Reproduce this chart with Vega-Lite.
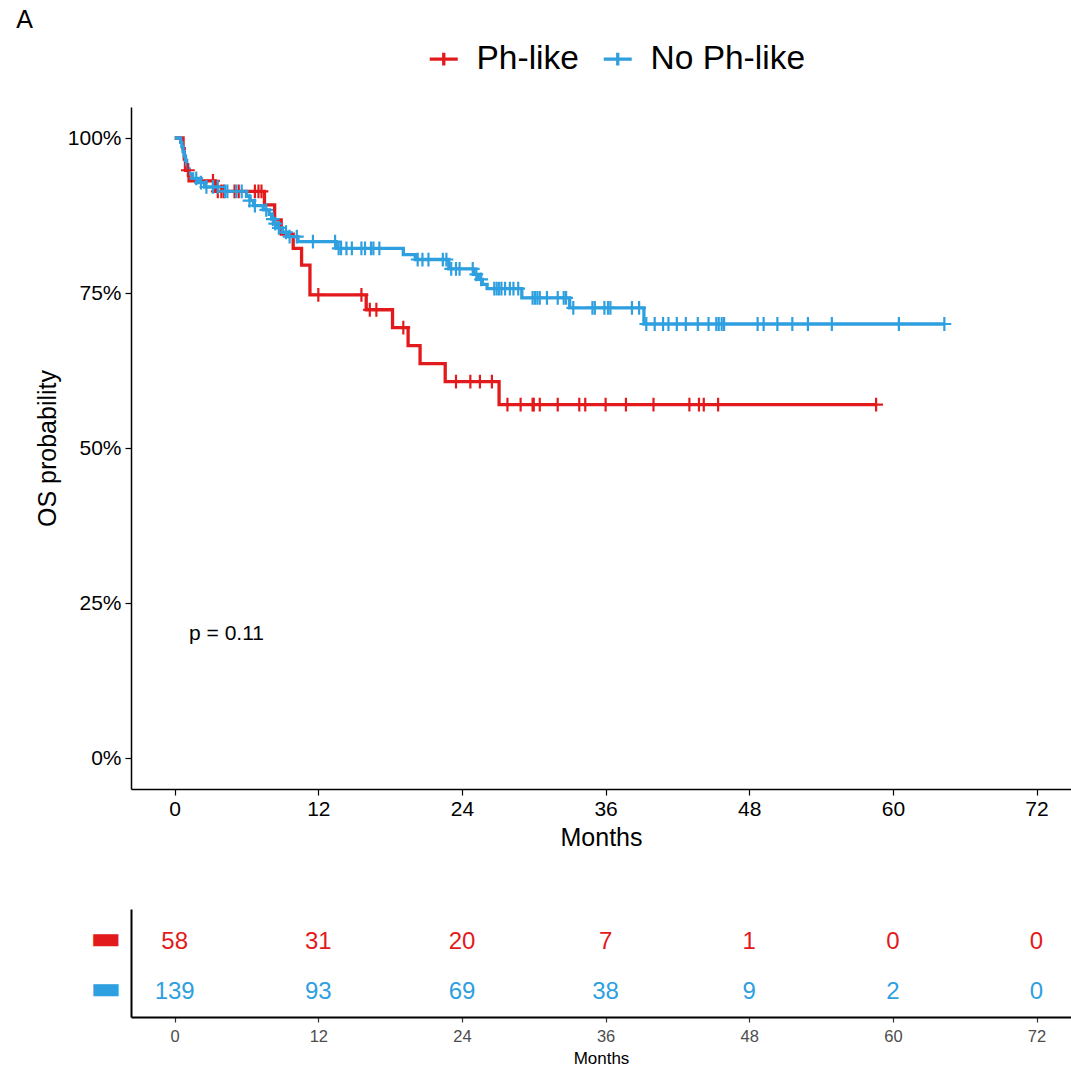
{
  "$schema": "https://vega.github.io/schema/vega-lite/v6.json",
  "background": "white",
  "padding": {"left": 16, "top": 8, "right": 0, "bottom": 0},
  "title": {"text": "A", "anchor": "start", "frame": "bounds", "fontSize": 25, "fontWeight": "normal", "font": "Liberation Sans", "dx": -19, "offset": 9},
  "spacing": 59,
  "datasets": {
    "km": [
      {"group": "Ph-like", "kind": "s", "time": 0, "surv": 1.0},
      {"group": "Ph-like", "kind": "s", "time": 0.7, "surv": 0.983},
      {"group": "Ph-like", "kind": "s", "time": 0.8, "surv": 0.966},
      {"group": "Ph-like", "kind": "s", "time": 0.9, "surv": 0.948},
      {"group": "Ph-like", "kind": "s", "time": 1.2, "surv": 0.931},
      {"group": "Ph-like", "kind": "s", "time": 3.4, "surv": 0.914},
      {"group": "Ph-like", "kind": "s", "time": 7.5, "surv": 0.892},
      {"group": "Ph-like", "kind": "s", "time": 8.35, "surv": 0.868},
      {"group": "Ph-like", "kind": "s", "time": 8.9, "surv": 0.845},
      {"group": "Ph-like", "kind": "s", "time": 9.9, "surv": 0.822},
      {"group": "Ph-like", "kind": "s", "time": 10.6, "surv": 0.795},
      {"group": "Ph-like", "kind": "s", "time": 11.3, "surv": 0.747},
      {"group": "Ph-like", "kind": "s", "time": 16.0, "surv": 0.723},
      {"group": "Ph-like", "kind": "s", "time": 18.2, "surv": 0.694},
      {"group": "Ph-like", "kind": "s", "time": 19.5, "surv": 0.665},
      {"group": "Ph-like", "kind": "s", "time": 20.5, "surv": 0.636},
      {"group": "Ph-like", "kind": "s", "time": 22.6, "surv": 0.607},
      {"group": "Ph-like", "kind": "s", "time": 27.1, "surv": 0.570},
      {"group": "Ph-like", "kind": "s", "time": 58.6, "surv": 0.570},
      {"group": "Ph-like", "kind": "c", "time": 1.1, "surv": 0.948},
      {"group": "Ph-like", "kind": "c", "time": 3.2, "surv": 0.931},
      {"group": "Ph-like", "kind": "c", "time": 3.6, "surv": 0.914},
      {"group": "Ph-like", "kind": "c", "time": 3.9, "surv": 0.914},
      {"group": "Ph-like", "kind": "c", "time": 4.1, "surv": 0.914},
      {"group": "Ph-like", "kind": "c", "time": 5.0, "surv": 0.914},
      {"group": "Ph-like", "kind": "c", "time": 5.35, "surv": 0.914},
      {"group": "Ph-like", "kind": "c", "time": 6.7, "surv": 0.914},
      {"group": "Ph-like", "kind": "c", "time": 7.0, "surv": 0.914},
      {"group": "Ph-like", "kind": "c", "time": 7.25, "surv": 0.914},
      {"group": "Ph-like", "kind": "c", "time": 12.0, "surv": 0.747},
      {"group": "Ph-like", "kind": "c", "time": 15.6, "surv": 0.747},
      {"group": "Ph-like", "kind": "c", "time": 16.3, "surv": 0.723},
      {"group": "Ph-like", "kind": "c", "time": 16.85, "surv": 0.723},
      {"group": "Ph-like", "kind": "c", "time": 19.1, "surv": 0.694},
      {"group": "Ph-like", "kind": "c", "time": 23.5, "surv": 0.607},
      {"group": "Ph-like", "kind": "c", "time": 24.7, "surv": 0.607},
      {"group": "Ph-like", "kind": "c", "time": 25.5, "surv": 0.607},
      {"group": "Ph-like", "kind": "c", "time": 26.5, "surv": 0.607},
      {"group": "Ph-like", "kind": "c", "time": 27.8, "surv": 0.570},
      {"group": "Ph-like", "kind": "c", "time": 28.9, "surv": 0.570},
      {"group": "Ph-like", "kind": "c", "time": 29.9, "surv": 0.570},
      {"group": "Ph-like", "kind": "c", "time": 30.0, "surv": 0.570},
      {"group": "Ph-like", "kind": "c", "time": 30.5, "surv": 0.570},
      {"group": "Ph-like", "kind": "c", "time": 32.0, "surv": 0.570},
      {"group": "Ph-like", "kind": "c", "time": 33.8, "surv": 0.570},
      {"group": "Ph-like", "kind": "c", "time": 34.3, "surv": 0.570},
      {"group": "Ph-like", "kind": "c", "time": 36.0, "surv": 0.570},
      {"group": "Ph-like", "kind": "c", "time": 37.7, "surv": 0.570},
      {"group": "Ph-like", "kind": "c", "time": 40.0, "surv": 0.570},
      {"group": "Ph-like", "kind": "c", "time": 43.0, "surv": 0.570},
      {"group": "Ph-like", "kind": "c", "time": 43.8, "surv": 0.570},
      {"group": "Ph-like", "kind": "c", "time": 44.2, "surv": 0.570},
      {"group": "Ph-like", "kind": "c", "time": 45.4, "surv": 0.570},
      {"group": "Ph-like", "kind": "c", "time": 58.6, "surv": 0.570},
      {"group": "No Ph-like", "kind": "s", "time": 0, "surv": 1.0},
      {"group": "No Ph-like", "kind": "s", "time": 0.5, "surv": 0.993},
      {"group": "No Ph-like", "kind": "s", "time": 0.6, "surv": 0.986},
      {"group": "No Ph-like", "kind": "s", "time": 0.7, "surv": 0.978},
      {"group": "No Ph-like", "kind": "s", "time": 0.8, "surv": 0.971},
      {"group": "No Ph-like", "kind": "s", "time": 0.9, "surv": 0.964},
      {"group": "No Ph-like", "kind": "s", "time": 1.0, "surv": 0.957},
      {"group": "No Ph-like", "kind": "s", "time": 1.1, "surv": 0.950},
      {"group": "No Ph-like", "kind": "s", "time": 1.2, "surv": 0.942},
      {"group": "No Ph-like", "kind": "s", "time": 1.5, "surv": 0.935},
      {"group": "No Ph-like", "kind": "s", "time": 2.0, "surv": 0.928},
      {"group": "No Ph-like", "kind": "s", "time": 2.5, "surv": 0.921},
      {"group": "No Ph-like", "kind": "s", "time": 4.0, "surv": 0.914},
      {"group": "No Ph-like", "kind": "s", "time": 6.0, "surv": 0.906},
      {"group": "No Ph-like", "kind": "s", "time": 6.3, "surv": 0.899},
      {"group": "No Ph-like", "kind": "s", "time": 6.6, "surv": 0.891},
      {"group": "No Ph-like", "kind": "s", "time": 7.4, "surv": 0.884},
      {"group": "No Ph-like", "kind": "s", "time": 7.9, "surv": 0.877},
      {"group": "No Ph-like", "kind": "s", "time": 8.1, "surv": 0.869},
      {"group": "No Ph-like", "kind": "s", "time": 8.3, "surv": 0.862},
      {"group": "No Ph-like", "kind": "s", "time": 8.6, "surv": 0.855},
      {"group": "No Ph-like", "kind": "s", "time": 9.0, "surv": 0.848},
      {"group": "No Ph-like", "kind": "s", "time": 9.5, "surv": 0.841},
      {"group": "No Ph-like", "kind": "s", "time": 10.3, "surv": 0.833},
      {"group": "No Ph-like", "kind": "s", "time": 13.5, "surv": 0.822},
      {"group": "No Ph-like", "kind": "s", "time": 19.1, "surv": 0.812},
      {"group": "No Ph-like", "kind": "s", "time": 20.1, "surv": 0.804},
      {"group": "No Ph-like", "kind": "s", "time": 22.9, "surv": 0.789},
      {"group": "No Ph-like", "kind": "s", "time": 25.0, "surv": 0.780},
      {"group": "No Ph-like", "kind": "s", "time": 25.4, "surv": 0.772},
      {"group": "No Ph-like", "kind": "s", "time": 25.7, "surv": 0.764},
      {"group": "No Ph-like", "kind": "s", "time": 26.1, "surv": 0.757},
      {"group": "No Ph-like", "kind": "s", "time": 29.0, "surv": 0.742},
      {"group": "No Ph-like", "kind": "s", "time": 33.0, "surv": 0.726},
      {"group": "No Ph-like", "kind": "s", "time": 39.2, "surv": 0.700},
      {"group": "No Ph-like", "kind": "s", "time": 64.3, "surv": 0.700},
      {"group": "No Ph-like", "kind": "c", "time": 1.8, "surv": 0.935},
      {"group": "No Ph-like", "kind": "c", "time": 2.2, "surv": 0.928},
      {"group": "No Ph-like", "kind": "c", "time": 2.65, "surv": 0.921},
      {"group": "No Ph-like", "kind": "c", "time": 3.2, "surv": 0.921},
      {"group": "No Ph-like", "kind": "c", "time": 3.6, "surv": 0.921},
      {"group": "No Ph-like", "kind": "c", "time": 4.2, "surv": 0.914},
      {"group": "No Ph-like", "kind": "c", "time": 4.4, "surv": 0.914},
      {"group": "No Ph-like", "kind": "c", "time": 5.15, "surv": 0.914},
      {"group": "No Ph-like", "kind": "c", "time": 5.6, "surv": 0.914},
      {"group": "No Ph-like", "kind": "c", "time": 6.25, "surv": 0.899},
      {"group": "No Ph-like", "kind": "c", "time": 6.7, "surv": 0.891},
      {"group": "No Ph-like", "kind": "c", "time": 7.65, "surv": 0.884},
      {"group": "No Ph-like", "kind": "c", "time": 8.2, "surv": 0.869},
      {"group": "No Ph-like", "kind": "c", "time": 8.4, "surv": 0.862},
      {"group": "No Ph-like", "kind": "c", "time": 8.7, "surv": 0.855},
      {"group": "No Ph-like", "kind": "c", "time": 9.3, "surv": 0.848},
      {"group": "No Ph-like", "kind": "c", "time": 9.6, "surv": 0.841},
      {"group": "No Ph-like", "kind": "c", "time": 10.2, "surv": 0.841},
      {"group": "No Ph-like", "kind": "c", "time": 11.55, "surv": 0.833},
      {"group": "No Ph-like", "kind": "c", "time": 13.4, "surv": 0.833},
      {"group": "No Ph-like", "kind": "c", "time": 13.7, "surv": 0.822},
      {"group": "No Ph-like", "kind": "c", "time": 13.9, "surv": 0.822},
      {"group": "No Ph-like", "kind": "c", "time": 14.35, "surv": 0.822},
      {"group": "No Ph-like", "kind": "c", "time": 14.8, "surv": 0.822},
      {"group": "No Ph-like", "kind": "c", "time": 15.6, "surv": 0.822},
      {"group": "No Ph-like", "kind": "c", "time": 15.9, "surv": 0.822},
      {"group": "No Ph-like", "kind": "c", "time": 16.4, "surv": 0.822},
      {"group": "No Ph-like", "kind": "c", "time": 16.6, "surv": 0.822},
      {"group": "No Ph-like", "kind": "c", "time": 17.1, "surv": 0.822},
      {"group": "No Ph-like", "kind": "c", "time": 20.3, "surv": 0.804},
      {"group": "No Ph-like", "kind": "c", "time": 20.7, "surv": 0.804},
      {"group": "No Ph-like", "kind": "c", "time": 21.2, "surv": 0.804},
      {"group": "No Ph-like", "kind": "c", "time": 22.4, "surv": 0.804},
      {"group": "No Ph-like", "kind": "c", "time": 22.7, "surv": 0.804},
      {"group": "No Ph-like", "kind": "c", "time": 23.1, "surv": 0.789},
      {"group": "No Ph-like", "kind": "c", "time": 23.5, "surv": 0.789},
      {"group": "No Ph-like", "kind": "c", "time": 23.8, "surv": 0.789},
      {"group": "No Ph-like", "kind": "c", "time": 24.9, "surv": 0.789},
      {"group": "No Ph-like", "kind": "c", "time": 25.2, "surv": 0.780},
      {"group": "No Ph-like", "kind": "c", "time": 25.6, "surv": 0.772},
      {"group": "No Ph-like", "kind": "c", "time": 26.7, "surv": 0.757},
      {"group": "No Ph-like", "kind": "c", "time": 26.9, "surv": 0.757},
      {"group": "No Ph-like", "kind": "c", "time": 27.1, "surv": 0.757},
      {"group": "No Ph-like", "kind": "c", "time": 27.3, "surv": 0.757},
      {"group": "No Ph-like", "kind": "c", "time": 27.6, "surv": 0.757},
      {"group": "No Ph-like", "kind": "c", "time": 28.0, "surv": 0.757},
      {"group": "No Ph-like", "kind": "c", "time": 28.3, "surv": 0.757},
      {"group": "No Ph-like", "kind": "c", "time": 28.7, "surv": 0.757},
      {"group": "No Ph-like", "kind": "c", "time": 29.9, "surv": 0.742},
      {"group": "No Ph-like", "kind": "c", "time": 30.1, "surv": 0.742},
      {"group": "No Ph-like", "kind": "c", "time": 30.3, "surv": 0.742},
      {"group": "No Ph-like", "kind": "c", "time": 30.5, "surv": 0.742},
      {"group": "No Ph-like", "kind": "c", "time": 31.1, "surv": 0.742},
      {"group": "No Ph-like", "kind": "c", "time": 32.0, "surv": 0.742},
      {"group": "No Ph-like", "kind": "c", "time": 32.5, "surv": 0.742},
      {"group": "No Ph-like", "kind": "c", "time": 32.7, "surv": 0.742},
      {"group": "No Ph-like", "kind": "c", "time": 33.3, "surv": 0.726},
      {"group": "No Ph-like", "kind": "c", "time": 34.9, "surv": 0.726},
      {"group": "No Ph-like", "kind": "c", "time": 35.1, "surv": 0.726},
      {"group": "No Ph-like", "kind": "c", "time": 35.9, "surv": 0.726},
      {"group": "No Ph-like", "kind": "c", "time": 36.2, "surv": 0.726},
      {"group": "No Ph-like", "kind": "c", "time": 36.4, "surv": 0.726},
      {"group": "No Ph-like", "kind": "c", "time": 38.2, "surv": 0.726},
      {"group": "No Ph-like", "kind": "c", "time": 38.8, "surv": 0.726},
      {"group": "No Ph-like", "kind": "c", "time": 39.4, "surv": 0.700},
      {"group": "No Ph-like", "kind": "c", "time": 40.1, "surv": 0.700},
      {"group": "No Ph-like", "kind": "c", "time": 40.8, "surv": 0.700},
      {"group": "No Ph-like", "kind": "c", "time": 41.25, "surv": 0.700},
      {"group": "No Ph-like", "kind": "c", "time": 41.95, "surv": 0.700},
      {"group": "No Ph-like", "kind": "c", "time": 42.7, "surv": 0.700},
      {"group": "No Ph-like", "kind": "c", "time": 43.7, "surv": 0.700},
      {"group": "No Ph-like", "kind": "c", "time": 44.6, "surv": 0.700},
      {"group": "No Ph-like", "kind": "c", "time": 45.25, "surv": 0.700},
      {"group": "No Ph-like", "kind": "c", "time": 45.45, "surv": 0.700},
      {"group": "No Ph-like", "kind": "c", "time": 45.7, "surv": 0.700},
      {"group": "No Ph-like", "kind": "c", "time": 45.9, "surv": 0.700},
      {"group": "No Ph-like", "kind": "c", "time": 48.7, "surv": 0.700},
      {"group": "No Ph-like", "kind": "c", "time": 49.2, "surv": 0.700},
      {"group": "No Ph-like", "kind": "c", "time": 50.35, "surv": 0.700},
      {"group": "No Ph-like", "kind": "c", "time": 51.6, "surv": 0.700},
      {"group": "No Ph-like", "kind": "c", "time": 52.9, "surv": 0.700},
      {"group": "No Ph-like", "kind": "c", "time": 54.9, "surv": 0.700},
      {"group": "No Ph-like", "kind": "c", "time": 60.5, "surv": 0.700},
      {"group": "No Ph-like", "kind": "c", "time": 64.3, "surv": 0.700}
    ],
    "risk": [
      {"group": "Ph-like", "time": 0, "n": 58},
      {"group": "Ph-like", "time": 12, "n": 31},
      {"group": "Ph-like", "time": 24, "n": 20},
      {"group": "Ph-like", "time": 36, "n": 7},
      {"group": "Ph-like", "time": 48, "n": 1},
      {"group": "Ph-like", "time": 60, "n": 0},
      {"group": "Ph-like", "time": 72, "n": 0},
      {"group": "No Ph-like", "time": 0, "n": 139},
      {"group": "No Ph-like", "time": 12, "n": 93},
      {"group": "No Ph-like", "time": 24, "n": 69},
      {"group": "No Ph-like", "time": 36, "n": 38},
      {"group": "No Ph-like", "time": 48, "n": 9},
      {"group": "No Ph-like", "time": 60, "n": 2},
      {"group": "No Ph-like", "time": 72, "n": 0}
    ],
    "pval": [{"label": "p = 0.11", "time": 1.2, "surv": 0.2}]
  },
  "vconcat": [
    {
      "width": 940,
      "height": 682,
      "layer": [
        {
          "data": {"name": "km"},
          "transform": [{"filter": "datum.kind == 's'"}],
          "mark": {"type": "line", "interpolate": "step-after", "strokeWidth": 3.3},
          "encoding": {
            "x": {"field": "time", "type": "quantitative", "scale": {"domain": [-3.65, 74.88], "nice": false, "zero": false},
                  "axis": {"values": [0, 12, 24, 36, 48, 60, 72], "title": "Months", "titleFontSize": 25, "labelFontSize": 21, "tickSize": 6, "labelPadding": 3, "titlePadding": 6}},
            "y": {"field": "surv", "type": "quantitative", "scale": {"domain": [-0.05, 1.05], "nice": false, "zero": false},
                  "axis": {"values": [0, 0.25, 0.5, 0.75, 1], "format": ".0%", "title": "OS probability", "titleFontSize": 25, "labelFontSize": 21, "tickSize": 6, "labelPadding": 4, "titlePadding": 7}},
            "color": {"field": "group", "type": "nominal",
                      "scale": {"domain": ["Ph-like", "No Ph-like"], "range": ["#E31A1C", "#2E9FDF"]},
                      "legend": {"orient": "none", "legendX": 296, "legendY": -65, "direction": "horizontal", "title": null,
                                 "labelFontSize": 33.5, "labelFont": "Liberation Sans", "labelColor": "black",
                                 "symbolType": "M-1,0H1M0,-0.45V0.45", "symbolSize": 784, "symbolStrokeWidth": 3.3,
                                 "symbolFillColor": "transparent", "labelOffset": 16, "columnPadding": 18}},
            "detail": {"field": "group"}
          }
        },
        {
          "data": {"name": "km"},
          "transform": [{"filter": "datum.kind == 'c'"}],
          "mark": {"type": "point", "shape": "M-1,0H1M0,-1V1", "filled": false, "size": 190, "strokeWidth": 2.2, "opacity": 1},
          "encoding": {
            "x": {"field": "time", "type": "quantitative"},
            "y": {"field": "surv", "type": "quantitative"},
            "color": {"field": "group", "type": "nominal"}
          }
        },
        {
          "data": {"name": "pval"},
          "mark": {"type": "text", "align": "left", "baseline": "middle", "fontSize": 21, "font": "Liberation Sans", "color": "black"},
          "encoding": {
            "x": {"field": "time", "type": "quantitative"},
            "y": {"field": "surv", "type": "quantitative"},
            "text": {"field": "label"}
          }
        }
      ]
    },
    {
      "width": 940,
      "height": 108,
      "data": {"name": "risk"},
      "mark": {"type": "text", "fontSize": 24, "font": "Liberation Sans", "baseline": "middle", "dy": 4},
      "encoding": {
        "x": {"field": "time", "type": "quantitative", "scale": {"domain": [-3.65, 74.88], "nice": false, "zero": false},
              "axis": {"values": [0, 12, 24, 36, 48, 60, 72], "title": "Months", "titleFontSize": 17, "labelFontSize": 16.5, "labelColor": "#4D4D4D", "tickColor": "#333333", "tickSize": 5, "labelPadding": 6, "titlePadding": 6, "domainWidth": 2}},
        "y": {"field": "group", "type": "nominal", "scale": {"type": "point", "domain": ["Ph-like", "No Ph-like"], "padding": 0.58},
              "axis": {"title": null, "ticks": false, "labelExpr": "'▬'", "labelFontSize": 33, "labelFont": "DejaVu Sans", "labelPadding": 10, "domainWidth": 2,
                       "labelColor": {"condition": {"test": "datum.value == 'Ph-like'", "value": "#E31A1C"}, "value": "#2E9FDF"}}},
        "color": {"field": "group", "type": "nominal", "legend": null},
        "text": {"field": "n", "type": "quantitative"}
      }
    }
  ],
  "config": {
    "view": {"stroke": null},
    "font": "Liberation Sans",
    "axis": {"grid": false, "domainColor": "black", "domainWidth": 1.5, "tickColor": "black", "tickWidth": 1.2, "labelColor": "black", "titleColor": "black", "titleFontWeight": "normal", "labelFont": "Liberation Sans", "titleFont": "Liberation Sans"}
  }
}
